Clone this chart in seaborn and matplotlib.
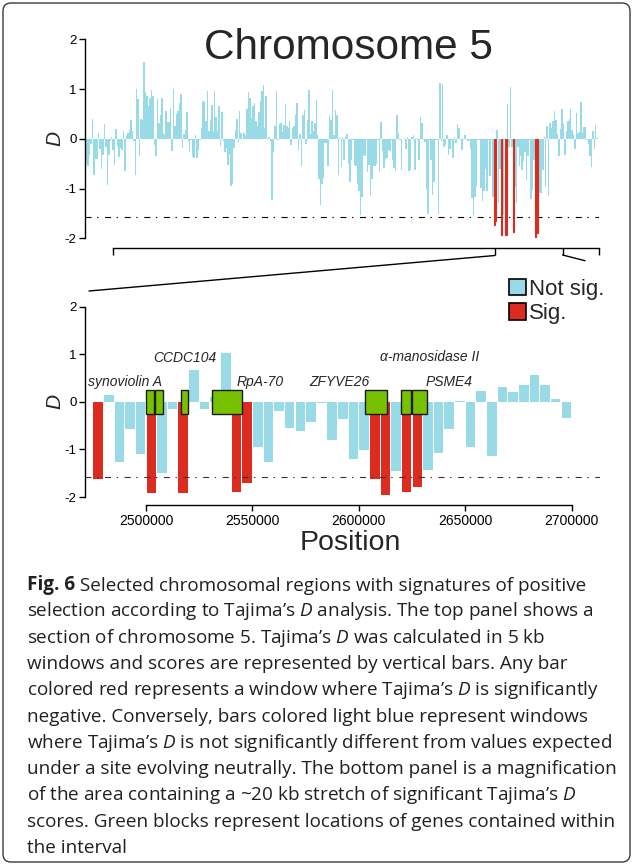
import numpy as np
import pandas as pd
import matplotlib.pyplot as plt
import seaborn as sns
from matplotlib.patches import Patch, Rectangle, FancyBboxPatch
from matplotlib.lines import Line2D

# Tajima's D per 5 kb window, chromosome 5 section (top panel), left to right
top_d = [
    -0.48, -0.55, -0.33, -0.11, 0.39, -0.73, -0.40, -0.41, 0.11, -0.20, -0.60, -0.33, 0.29, -0.16,
    -0.92, -0.33, -0.05, 0.03, -0.23, -0.52, 0.19, -0.15, -0.37, -0.18, -0.23, 0.15, -0.65, 0.07,
    0.12, 0.17, 0.37, 0.15, -0.05, -0.73, 1.01, 0.79, -0.35, 0.40, 0.38, 1.54, 0.94, 0.86, 0.66,
    0.83, 0.99, 0.87, -0.13, -0.35, 0.80, 0.32, 0.47, 0.83, 0.12, 0.07, 0.55,
    0.33, 0.33, 0.62, -0.25, 1.01, 0.25, 0.49, 0.55, 0.71, 0.91, -0.19, 0.09, 0.17, 0.54, -0.05,
    -0.27, -0.02, -0.37, -0.39, 0.07, -0.39, -0.23, -0.02, 0.21, 0.76, 0.74, 0.36, 0.96, 0.15, 0.37,
    0.67, 0.15, 0.96, 0.44, 0.15, 0.65, -0.15, 0.54, -0.05, -0.27, -0.18, -0.52, -0.32, -0.95, -0.90,
    -0.18, 0.17, 0.40, -0.09, 0.55, 0.12, -0.03, 0.12, 0.07, 0.59, 0.94,
    0.83, 0.42, 0.66, 0.71, 0.36, 0.25, 0.54, 0.76, 0.97, 1.09, 0.21, 0.86, -0.03, 0.03, -0.05,
    -1.23, -0.27, 0.25, 0.97, -0.03, 0.29, 0.31, 0.13, 0.28, 0.69, 0.25, 0.22, 0.36, -0.13, 0.21,
    0.25, 0.47, 0.71, -0.23, 0.09, -0.54, 0.47, 0.58, -0.11, 0.38, 0.99, 0.09, 0.36, 0.15, 0.31,
    0.77, 0.07, -0.81, -1.34, -0.90, -0.79, -0.08, -0.08, -0.54, 0.47, 0.38, 0.99, 0.07, 0.58,
    0.47, -0.73, 0.01, -0.57, 0.03, -0.43, 0.03, 0.09, -0.50, -0.87, -0.42, -0.02, -0.52, -0.55,
    -0.90, -1.04, -1.54, -1.17, -0.32, -0.34, -0.02, -0.67, -0.52, -1.15, -0.81, -0.54, -0.54, -0.50,
    -0.02, -0.67, 0.34, -0.25, -0.58, -0.40, -0.38, -0.23, -0.25, -0.03, -0.42, -0.58, -0.65, 0.47,
    0.12, -0.02, -0.63, -0.01, 0.01, -0.20, 0.03, -0.65, -0.63, 0.04, 0.07, -0.62, 0.01, -0.03,
    -0.43, 0.44, 0.32, -0.02, -0.07, -1.01, -1.52, -0.02, -0.42,
    -1.12, -0.87, -0.02, -0.02, -1.52, 1.13, -0.05, 1.11, -0.16, -0.13, 0.07, -0.32, -0.21, -0.02,
    -0.38, 0.04, -0.08, 0.29, 0.22, -0.02, -0.23, -0.02, 0.07, -0.03, -0.05, -0.02, -0.21, -1.19,
    -1.54, -1.17, -0.95, -0.02, -0.02, -0.99, -1.26, -1.05, -0.60, -1.05, -0.02, -0.75, -0.02, -1.17,
    -1.74, -1.66, 0.17, -1.30, -0.60, -1.94, -1.54, -0.02, -1.94, 0.69, -0.16, 1.05, -0.16, -1.87,
    -0.97, -1.29, -0.16, -0.55, -0.35,
    -0.62, -0.45, -0.27, -0.82, -0.35, -0.02, -1.22, -1.02, -0.42, -1.99, -1.90, -1.46, -1.09, -1.09,
    -0.62, 0.03, -0.97, 0.25, -1.15, 0.32, 0.22, 0.36, 0.56, 0.37, 0.09, -0.35, 0.19, 0.59, 0.30,
    -0.33, 0.15, 0.36, 0.39, 0.60, 0.17, 0.07, -0.20, 0.51, 0.11, 0.14, 0.74, 0.11, 0.24, 0.24,
    -0.02, -0.11, -0.35, -0.56, 0.15, -0.20, 0.28, 0.02,
]

# zoomed region (bottom panel): window centres and D
zoom_pos = np.arange(2477500, 2700000, 5000)
zoom_d = [-1.62, 0.15, -1.26, -0.58, -1.09, -1.91, -1.50, -0.15, -1.91, 0.67,
          -0.15, 0.10, 1.02, -1.89, -1.71, -0.95, -1.26, -0.20, -0.54, -0.61,
          -0.43, -0.02, -0.80, -0.36, -1.21, -1.01, -1.62, -1.96, -1.46, -1.90,
          -1.80, -1.43, -1.07, -0.58, 0.02, -0.94, 0.22, -1.14, 0.32, 0.21,
          0.35, 0.56, 0.35, 0.06, -0.33]

threshold = -1.58

# genes inside the interval
gene_start = [2500000, 2504400, 2516600, 2531200, 2603100, 2619700, 2624900]
gene_end = [2503800, 2507800, 2519600, 2545000, 2613400, 2624600, 2631900]
gene_labels = ["synoviolin A", "CCDC104", "RpA-70", "ZFYVE26", "\u03b1-manosidase II", "PSME4"]
label_x = [2490100, 2518100, 2553800, 2590900, 2633500, 2642200]
label_y = [0.42, 0.92, 0.42, 0.42, 0.95, 0.42]

caption = [
    "selection according to Tajima\u2019s $D$ analysis. The top panel shows a",
    "section of chromosome 5. Tajima\u2019s $D$ was calculated in 5 kb",
    "windows and scores are represented by vertical bars. Any bar",
    "colored red represents a window where Tajima\u2019s $D$ is significantly",
    "negative. Conversely, bars colored light blue represent windows",
    "where Tajima\u2019s $D$ is not significantly different from values expected",
    "under a site evolving neutrally. The bottom panel is a magnification",
    "of the area containing a ~20 kb stretch of significant Tajima\u2019s $D$",
    "scores. Green blocks represent locations of genes contained within",
    "the interval",
]

blue = "#98dbe6"
red = "#dc2b1f"
green = "#78c101"

sns.set_style("ticks")
plt.rcParams["font.family"] = ["Liberation Sans", "DejaVu Sans"]
plt.rcParams["axes.unicode_minus"] = False
plt.rcParams["mathtext.fontset"] = "custom"
plt.rcParams["mathtext.it"] = "Open Sans:italic"
plt.rcParams["mathtext.rm"] = "Open Sans"

top_df = pd.DataFrame({"window": np.arange(len(top_d)), "D": top_d})
top_df["sig"] = np.where(top_df["D"] < threshold, "Sig.", "Not sig.")
zoom_df = pd.DataFrame({"pos": zoom_pos, "D": zoom_d})
zoom_df["sig"] = np.where(zoom_df["D"] < threshold, "Sig.", "Not sig.")

fig = plt.figure(figsize=(6.33, 8.67), dpi=100)
W, H = 633, 867
ax_top = fig.add_axes([85 / W, 1 - 238.3 / H, 514 / W, 199 / H])
ax_bot = fig.add_axes([85 / W, 1 - 497 / H, 515 / W, 190.3 / H])

# ---- top panel
sns.barplot(data=top_df, x="window", y="D", hue="sig", hue_order=["Not sig.", "Sig."],
            palette=[blue, red], saturation=1, native_scale=True, width=1, dodge=False,
            errorbar=None, linewidth=0, legend=False, ax=ax_top)
for p in ax_top.patches:
    if p.get_facecolor()[0] > 0.8:
        p.set_edgecolor(red)
        p.set_linewidth(0.8)
        p.set_zorder(3)
n = len(top_d)
ax_top.set_xlim(-1.18, n + 0.2)
ax_top.set_ylim(-2, 2)
ax_top.axhline(threshold, color="black", lw=0.8, linestyle=(0, (5.4, 5, 1.25, 6)))
zoom_lo = int(top_df.index[top_df["sig"] == "Sig."][0]) + 0.5
zoom_hi = zoom_lo + len(zoom_d) + 1
ax_top.set_xticks([18, zoom_lo, zoom_hi, n])
ax_top.set_xticklabels([])
ax_top.set_xlabel("")
ax_top.spines["bottom"].set_bounds(18, n)
ax_top.spines["bottom"].set_position(("outward", 7))
ax_top.text(0.513, 0.955, "Chromosome 5", transform=ax_top.transAxes, ha="center",
            va="center", fontsize=30.5)

# ---- bottom panel
sns.barplot(data=zoom_df, x="pos", y="D", hue="sig", hue_order=["Not sig.", "Sig."],
            palette=[blue, red], saturation=1, native_scale=True, width=0.9, dodge=False,
            errorbar=None, linewidth=0, legend=False, ax=ax_bot)
ax_bot.axhline(threshold, color="#333333", lw=0.8, linestyle=(0, (5.4, 5, 1.25, 6)), zorder=1)
for s, e in zip(gene_start, gene_end):
    ax_bot.add_patch(Rectangle((s, -0.25), e - s, 0.5, facecolor=green,
                               edgecolor="#1a1a1a", lw=1, zorder=3))
for lab, lx, ly in zip(gene_labels, label_x, label_y):
    ax_bot.text(lx, ly, lab, ha="center", va="center", style="italic", fontsize=10, zorder=4)
ax_bot.set_xlim(2471330, 2713330)
ax_bot.set_ylim(-2, 2)
ax_bot.set_xticks([2500000, 2550000, 2600000, 2650000, 2700000])
ax_bot.set_xticklabels(["2500000", "2550000", "2600000", "2650000", "2700000"], fontsize=13.5)
ax_bot.spines["bottom"].set_bounds(2500000, 2700000)
ax_bot.spines["bottom"].set_position(("outward", 6))
ax_bot.set_xlabel("Position", fontsize=20.5)
ax_bot.xaxis.set_label_coords(0.516, -0.175)

for ax in (ax_top, ax_bot):
    sns.despine(ax=ax)
    ax.set_yticks([-2, -1, 0, 1, 2])
    ax.set_yticklabels(["-2", "-1", "0", "1", "2"], fontsize=9.5)
    ax.spines["left"].set_bounds(-2, 2)
    ax.tick_params(direction="out", length=4, width=1, pad=2, colors="black")
    for sp in ("left", "bottom"):
        ax.spines[sp].set_linewidth(1)
        ax.spines[sp].set_color("black")
    ax.set_ylabel("D", style="italic", fontsize=15)
    ax.yaxis.set_label_coords(-0.04, 0.5)
    ax.patch.set_alpha(0)
ax_top.tick_params(axis="x", length=5)

# zoom connector lines
inv = fig.transFigure.inverted()
x_lo = ax_top.transData.transform((zoom_lo, 0))[0]
x_hi = ax_top.transData.transform((zoom_hi, 0))[0]
fig.add_artist(Line2D([inv.transform((x_lo, 0))[0], 89 / W], [1 - 255.5 / H, 1 - 291 / H],
                      color="black", lw=1))
fig.add_artist(Line2D([inv.transform((x_hi, 0))[0], 585 / W], [1 - 255 / H, 1 - 260.7 / H],
                      color="black", lw=1))

legend_patches = [Patch(facecolor=blue, edgecolor="black", lw=1.2, label="Not sig."),
                  Patch(facecolor=red, edgecolor="black", lw=1.2, label="Sig.")]
fig.legend(handles=legend_patches, loc="upper left", bbox_to_anchor=(509 / W, 1 - 279 / H),
           frameon=False, fontsize=16, handlelength=0.75, handleheight=0.75,
           handletextpad=0.15, labelspacing=0.15, borderpad=0, borderaxespad=0)

# ---- caption
cap_font = ["Open Sans", "DejaVu Sans"]
cap_size = 13.6
ax_cap = fig.add_axes([0, 0, 1, 1])
ax_cap.axis("off")
ax_cap.set_xlim(0, W)
ax_cap.set_ylim(H, 0)
t = ax_cap.text(27, 590, "Fig. 6", fontsize=cap_size, weight="bold", family=cap_font,
                color="#231f20", va="baseline")
ax_cap.annotate(" Selected chromosomal regions with signatures of positive", xy=(1, 0),
                xycoords=t, va="bottom", ha="left", fontsize=cap_size, family=cap_font,
                color="#231f20")
for k, line in enumerate(caption):
    ax_cap.text(27, 590 + 26.3 * (k + 1), line, fontsize=cap_size, family=cap_font,
                color="#231f20", va="baseline")

fig.add_artist(FancyBboxPatch((0.03, 0.05), 6.27, 8.59, boxstyle="round,pad=0,rounding_size=0.08",
                              transform=fig.dpi_scale_trans, facecolor="none",
                              edgecolor="#3a3a3a", lw=1))

plt.savefig("out.png", dpi=100)
